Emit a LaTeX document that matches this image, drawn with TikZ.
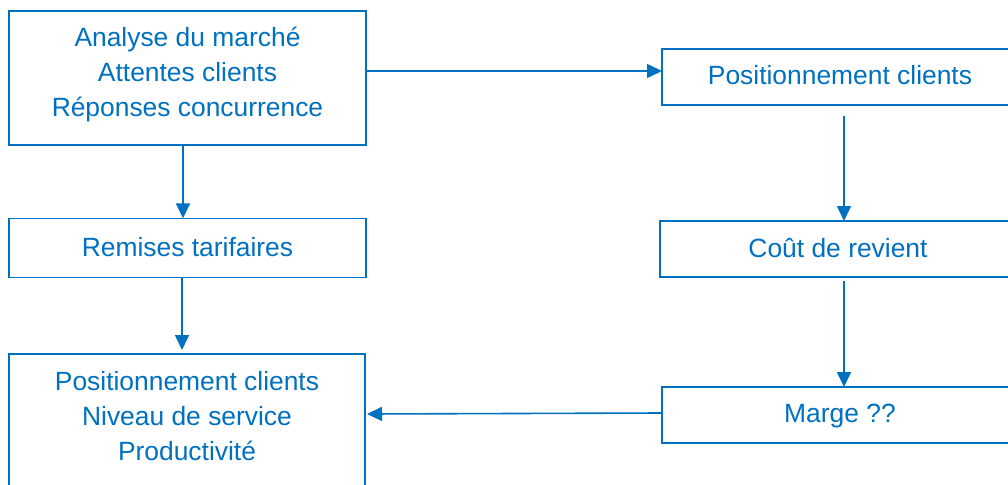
\documentclass[tikz,border=0pt]{standalone}
\usepackage{fontspec}
\setmainfont{Liberation Sans}
\usetikzlibrary{arrows.meta}
\definecolor{myblue}{HTML}{0070C0}
\newcommand{\liftlines}[2]{\raisebox{#1}[\height][\depth]{\begin{tabular}{@{}c@{}}#2\end{tabular}}}
\tikzset{
  box/.style={draw=myblue, line width=1.6pt, rectangle, inner sep=0pt, outer sep=0pt,
    text=myblue, font=\fontsize{26.4}{35}\selectfont},
  arr/.style={draw=myblue, line width=1.6pt, -{Triangle[length=15pt,width=14pt]}},
}
\begin{document}
\begin{tikzpicture}[x=1pt,y=-1pt]
\clip (0,0) rectangle (1008,484);
\fill[white] (0,0) rectangle (1008,484);
\node[box, minimum width=357pt, minimum height=134pt] (a) at (187.5,78)
  {\liftlines{3.3pt}{Analyse du marché\\Attentes clients\\Réponses concurrence}};
\node[box, minimum width=356pt, minimum height=56pt] (p) at (840,77)
  {\liftlines{-0.3pt}{Positionnement clients}};
\node[box, minimum width=357pt, minimum height=59pt] (r) at (187.5,247.8)
  {\liftlines{-1.9pt}{Remises tarifaires}};
\node[box, minimum width=356pt, minimum height=56pt] (c) at (838,249)
  {\liftlines{-1.3pt}{Coût de revient}};
\node[box, minimum width=356pt, minimum height=56pt] (m) at (840,415)
  {\liftlines{-0.5pt}{Marge ??}};
\node[box, minimum width=356pt, minimum height=134pt] (b) at (187,421)
  {\liftlines{3pt}{Positionnement clients\\Niveau de service\\Productivité}};
\draw[arr] ([yshift=7pt]a.east) -- ([yshift=6pt]p.west);
\draw[arr] ([xshift=-4.5pt]a.south) -- ([xshift=-4.5pt]r.north);
\draw[arr] ([xshift=-5.5pt]r.south) -- ([xshift=-5pt,yshift=4pt]b.north);
\draw[arr, shorten <=11pt] ([xshift=4pt]p.south) -- ([xshift=6pt]c.north);
\draw[arr, shorten <=4pt] ([xshift=6pt]c.south) -- ([xshift=4pt]m.north);
\draw[arr] ([yshift=2pt]m.west) -- ([xshift=2pt,yshift=7pt]b.east);
\end{tikzpicture}
\end{document}
